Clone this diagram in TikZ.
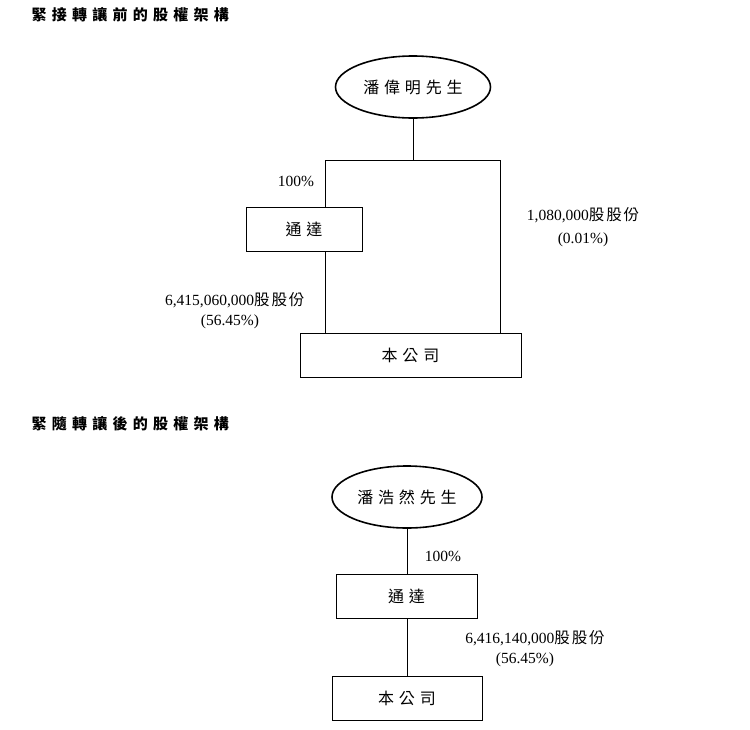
\documentclass[tikz,border=0pt]{standalone}
\usepackage{fontspec}
\setmainfont{Liberation Serif}
\newfontfamily\cjk[LetterSpace=30]{Noto Sans CJK TC}
\newfontfamily\cjkt[LetterSpace=12]{Noto Sans CJK TC}
\newfontfamily\cjkh[LetterSpace=35]{Noto Sans CJK TC}
\usetikzlibrary{shapes.geometric}
\begin{document}
\begin{tikzpicture}[x=1pt,y=-1pt,
  lbl/.style={font=\fontsize{15.5}{17}\selectfont},
  ttl/.style={font=\cjkh\bfseries\fontsize{15}{17}\selectfont,anchor=west},
  person/.style={draw,ellipse,line width=1.6pt,minimum width=155pt,minimum height=62pt,font=\cjk\fontsize{16}{18}\selectfont},
  boxn/.style={draw,line width=0.8pt,font=\cjk\fontsize{16}{18}\selectfont},
  ln/.style={line width=0.8pt}]
\useasboundingbox (0,0) rectangle (750,729);
\node[ttl] (t1) at (28,15) {緊接轉讓前的股權架構};
\node[person] (p1) at (413,87) {潘偉明先生};
\node[boxn,minimum width=116pt,minimum height=44pt] (t) at (304,229) {通達};
\node[boxn,minimum width=221pt,minimum height=44pt] (c) at (410.5,355) {本公司};
\coordinate (j) at (413,160);
\draw[ln] (p1.south) -- (j);
\draw[ln] (j) -| (t.north -| 325,0);
\draw[ln] (j) -| (c.north -| 500,0);
\draw[ln] (t.south -| 325,0) -- (c.north -| 325,0);
\node[lbl] (l1) at (296,181) {100\%};
\node[lbl,anchor=east] (l2) at (308,300) {6,415,060,000{\cjkt 股股份}};
\node[lbl] (l3) at (230,322) {(56.45\%)};
\node[lbl] (l4) at (583,215) {1,080,000{\cjkt 股股份}};
\node[lbl] (l5) at (583,240) {(0.01\%)};
\node[ttl] (t2) at (28,424) {緊隨轉讓後的股權架構};
\node[person,minimum width=150pt] (p2) at (407,497) {潘浩然先生};
\node[boxn,minimum width=141pt,minimum height=44pt] (t2b) at (406.5,596) {通達};
\node[boxn,minimum width=150pt,minimum height=44pt] (c2) at (407,698) {本公司};
\draw[ln] (p2.south) -- (t2b.north -| p2.south);
\draw[ln] (t2b.south -| p2.south) -- (c2.north -| p2.south);
\node[lbl] (l6) at (443,556) {100\%};
\node[lbl] (l7) at (535,638) {6,416,140,000{\cjkt 股股份}};
\node[lbl] (l8) at (525,660) {(56.45\%)};
\end{tikzpicture}
\end{document}
